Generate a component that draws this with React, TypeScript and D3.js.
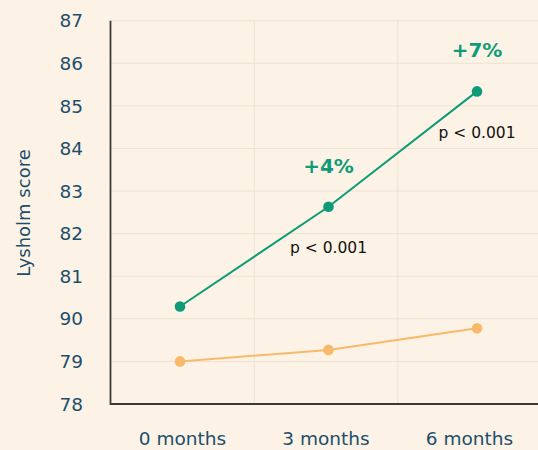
import React, { useEffect, useRef } from 'react';
import * as d3 from 'd3';

// months after surgery and mean Lysholm score per group
const months = [0, 3, 6];
const monthLabels = ['0 months', '3 months', '6 months'];
const treatedScores = [80.29, 82.63, 85.34];
const controlScores = [79.0, 79.27, 79.78];
const gainLabels = ['', '+4%', '+7%'];
const pLabels = ['', 'p < 0.001', 'p < 0.001'];
// tick labels as printed in the original (note the "90")
const yTickValues = [78, 79, 80, 81, 82, 83, 84, 85, 86, 87];
const yTickLabels = ['78', '79', '90', '81', '82', '83', '84', '85', '86', '87'];
const xGridValues = [1.5, 4.4];

export default function App() {
  const ref = useRef<SVGSVGElement | null>(null);

  useEffect(() => {
    const width = 538;
    const height = 450;
    const marginLeft = 110.5;
    const marginTop = 20.7;
    const bottom = 404;
    const font = '"DejaVu Sans", Verdana, sans-serif';
    const textColor = '#1d4e6c';
    const green = '#0f9b78';
    const orange = '#f8b96b';

    const svg = d3.select(ref.current);
    svg.selectAll('*').remove();

    svg.append('rect').attr('width', width).attr('height', height).attr('fill', '#fcf3e6');

    const x = d3.scaleLinear().domain([0, 6]).range([180, 477]);
    // tick labels sit a little tighter than the points
    const xLabel = d3.scaleLinear().domain([0, 6]).range([182.5, 469.5]);
    const y = d3.scaleLinear().domain([78, 87]).range([bottom, marginTop]);

    // grid
    const grid = svg.append('g').attr('stroke', '#eee2d2').attr('stroke-width', 1);
    grid
      .selectAll('line.h')
      .data(yTickValues.slice(1))
      .join('line')
      .attr('x1', marginLeft)
      .attr('x2', width)
      .attr('y1', (d) => y(d))
      .attr('y2', (d) => y(d));
    grid
      .selectAll('line.v')
      .data(xGridValues)
      .join('line')
      .attr('x1', (d) => x(d))
      .attr('x2', (d) => x(d))
      .attr('y1', marginTop)
      .attr('y2', bottom);

    // axes lines
    svg
      .append('path')
      .attr('d', `M${marginLeft},${marginTop}V${bottom}H${width}`)
      .attr('fill', 'none')
      .attr('stroke', '#3a3a3a')
      .attr('stroke-width', 1.8);

    // y tick labels
    svg
      .append('g')
      .selectAll('text')
      .data(yTickValues)
      .join('text')
      .attr('x', 83)
      .attr('y', (d) => y(d))
      .attr('dy', '0.36em')
      .attr('text-anchor', 'end')
      .attr('font-family', font)
      .attr('font-size', 18.5)
      .attr('fill', textColor)
      .text((d, i) => yTickLabels[i]);

    // x tick labels
    svg
      .append('g')
      .selectAll('text')
      .data(months)
      .join('text')
      .attr('x', (d) => xLabel(d))
      .attr('y', 445)
      .attr('text-anchor', 'middle')
      .attr('font-family', font)
      .attr('font-size', 18.5)
      .attr('fill', textColor)
      .text((d, i) => monthLabels[i]);

    // y axis title
    svg
      .append('text')
      .attr('transform', 'translate(30,213) rotate(-90)')
      .attr('text-anchor', 'middle')
      .attr('font-family', font)
      .attr('font-size', 18)
      .attr('fill', textColor)
      .text('Lysholm score');

    const line = d3
      .line<number>()
      .x((d, i) => x(months[i]))
      .y((d) => y(d));

    const drawSeries = (values: number[], color: string) => {
      svg
        .append('path')
        .attr('d', line(values))
        .attr('fill', 'none')
        .attr('stroke', color)
        .attr('stroke-width', 2);
      svg
        .append('g')
        .selectAll('circle')
        .data(values)
        .join('circle')
        .attr('cx', (d, i) => x(months[i]))
        .attr('cy', (d) => y(d))
        .attr('r', 5.3)
        .attr('fill', color);
    };
    drawSeries(controlScores, orange);
    drawSeries(treatedScores, green);

    // gain labels above green points
    svg
      .append('g')
      .selectAll('text')
      .data(treatedScores)
      .join('text')
      .attr('x', (d, i) => x(months[i]))
      .attr('y', (d) => y(d) - 34)
      .attr('text-anchor', 'middle')
      .attr('font-family', font)
      .attr('font-weight', 'bold')
      .attr('font-size', 20)
      .attr('fill', green)
      .text((d, i) => gainLabels[i]);

    // p values below the green points
    svg
      .append('g')
      .selectAll('text')
      .data(treatedScores)
      .join('text')
      .attr('x', (d, i) => x(months[i]))
      .attr('y', (d) => y(d) + 46.5)
      .attr('text-anchor', 'middle')
      .attr('font-family', font)
      .attr('font-size', 15.5)
      .attr('fill', '#111')
      .text((d, i) => pLabels[i]);
  }, []);

  return <svg ref={ref} width={538} height={450} style={{ position: 'absolute', left: 0, top: 0 }} />;
}
